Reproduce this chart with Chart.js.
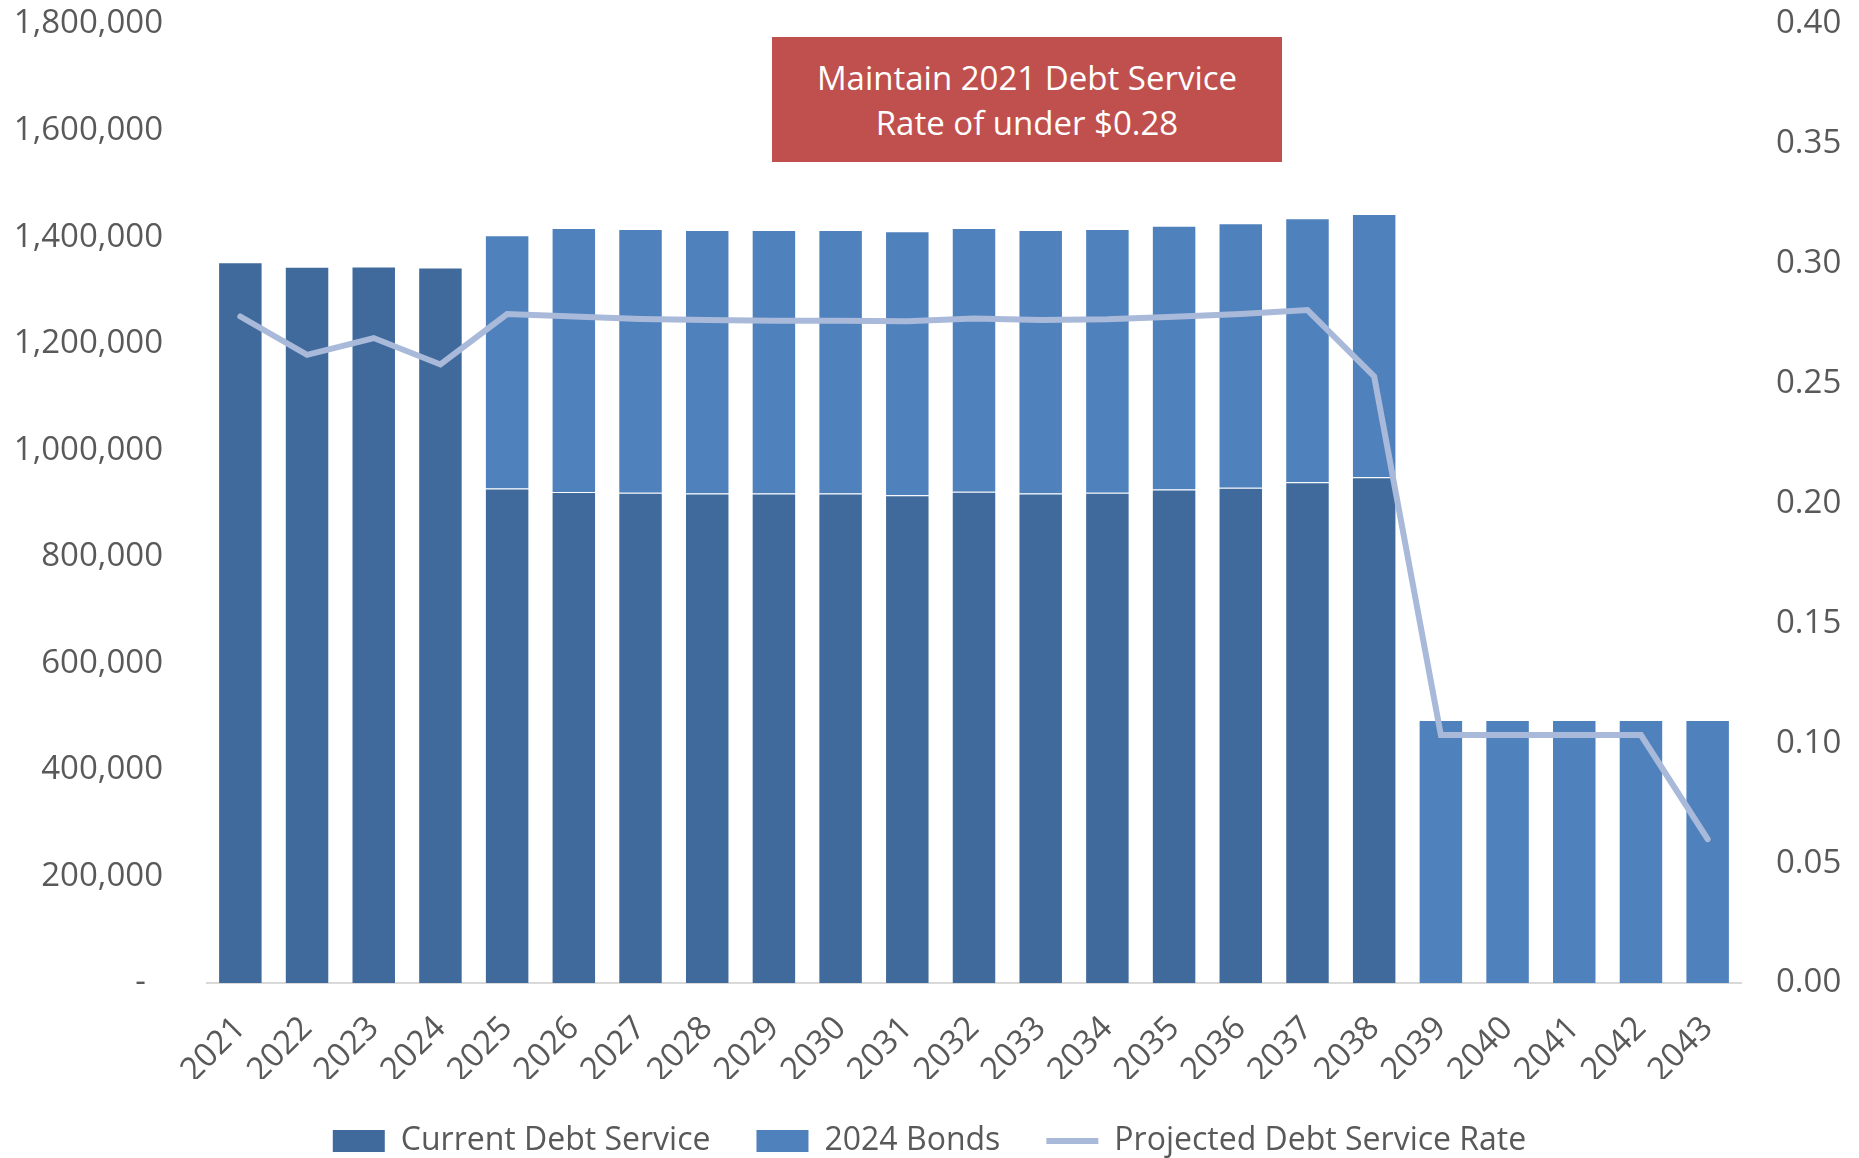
<!DOCTYPE html>
<html>
<head>
<meta charset="utf-8">
<script src="https://cdn.jsdelivr.net/npm/chart.js@4/dist/chart.umd.min.js"></script>
<style>
  html, body { margin: 0; padding: 0; background: #fff; }
  #wrap { position: relative; width: 1859px; height: 1158px; overflow: hidden; }
  #note {
    position: absolute; left: 772px; top: 37px; width: 510px; height: 125px;
    background: #C0504D; color: #fff; font-family: "Open Sans", sans-serif;
    font-size: 33px; line-height: 45px; text-align: center;
    display: flex; align-items: center; justify-content: center;
  }
</style>
</head>
<body>
<div id="wrap">
  <canvas id="debt" width="1859" height="1158"></canvas>
  <div id="note">Maintain 2021 Debt Service<br>Rate of under $0.28</div>
</div>
<script>
// fiscal years on the x axis
const years = ['2021','2022','2023','2024','2025','2026','2027','2028','2029','2030','2031','2032',
  '2033','2034','2035','2036','2037','2038','2039','2040','2041','2042','2043'];

// existing debt service ($)
const currentDebt = [1353000, 1344500, 1345000, 1343000, 928000, 921500, 920300, 919000, 919000,
  919000, 915300, 922100, 919000, 920300, 926500, 929600, 939700, 949100, null, null, null, null, null];

// new 2024 bond payments ($)
const bonds2024 = [null, null, null, null, 475400, 495600, 494900, 494300, 494300, 494300, 495500,
  495000, 494300, 494900, 495000, 496300, 495600, 494300, 493600, 493600, 493600, 493600, 493600];

// projected rate per $100 valuation (right axis)
const debtRate = [0.278, 0.262, 0.269, 0.258, 0.279, 0.278, 0.277, 0.2765, 0.2762, 0.2762, 0.276,
  0.2772, 0.2765, 0.2768, 0.2779, 0.279, 0.2807, 0.253, 0.1034, 0.1034, 0.1034, 0.1034, 0.060];

const leftTicks = { min: 0, max: 1800000, step: 200000 };
const rightTicks = { min: 0, max: 0.4, step: 0.05 };

const gray = '#595959';
const font = { family: '"Open Sans", sans-serif', size: 33 };

// y axes: fixed widths, and no extra top/bottom room for the end labels
function fixWidth(w) {
  return scale => {
    scale.width = w;
    scale.paddingTop = 0;
    scale.paddingBottom = 0;
  };
}

const ctx = document.getElementById('debt').getContext('2d');
new Chart(ctx, {
  type: 'bar',
  data: {
    labels: years,
    datasets: [
      { label: 'Current Debt Service', data: currentDebt, backgroundColor: '#406A9B',
        borderColor: 'rgba(255,255,255,0.3)', borderWidth: 1, yAxisID: 'y', order: 1, stack: 's' },
      { label: '2024 Bonds', data: bonds2024, backgroundColor: '#4F81BD',
        borderColor: 'rgba(255,255,255,0.3)', borderWidth: 1, yAxisID: 'y', order: 1, stack: 's' },
      { type: 'line', label: 'Projected Debt Service Rate', data: debtRate, yAxisID: 'y1',
        borderColor: '#A9B9D9', backgroundColor: '#A9B9D9', borderWidth: 6, pointRadius: 0,
        borderCapStyle: 'round', borderJoinStyle: 'miter', tension: 0, order: 0, pointStyle: 'line' }
    ]
  },
  options: {
    responsive: false,
    animation: false,
    layout: { padding: { top: 24, left: 0, right: 0, bottom: 0 } },
    datasets: { bar: { barPercentage: 0.667, categoryPercentage: 1 } },
    plugins: {
      tooltip: { enabled: false },
      legend: {
        position: 'bottom',
        maxHeight: 79,
        labels: {
          color: gray,
          font: { family: '"Open Sans", sans-serif', size: 32 },
          usePointStyle: true,
          pointStyleWidth: 52,
          boxHeight: 22,
          padding: 46,
          sort: (a, b) => a.datasetIndex - b.datasetIndex,
          generateLabels(chart) {
            return chart.data.datasets.map((ds, i) => ({
              text: ds.label,
              datasetIndex: i,
              fillStyle: ds.backgroundColor,
              strokeStyle: ds.type === 'line' ? ds.borderColor : ds.backgroundColor,
              lineWidth: ds.type === 'line' ? 6 : 0,
              pointStyle: ds.type === 'line' ? 'line' : 'rect',
              fontColor: gray,
              hidden: false
            }));
          }
        }
      }
    },
    scales: {
      x: {
        stacked: true,
        grid: { display: false, drawTicks: false },
        border: { display: true, color: '#D9D9D9', width: 2 },
        ticks: { color: gray, font, minRotation: 45, maxRotation: 45, padding: 26, autoSkip: false },
        afterFit(scale) { scale.height = 96; }
      },
      y: {
        stacked: true,
        position: 'left',
        min: leftTicks.min,
        max: leftTicks.max,
        grid: { display: false, drawTicks: false },
        border: { display: false },
        ticks: {
          stepSize: leftTicks.step,
          color: gray,
          font,
          padding: 44,
          callback: v => v === 0 ? '-  ' : v.toLocaleString('en-US')
        },
        afterFit: fixWidth(207)
      },
      y1: {
        position: 'right',
        min: rightTicks.min,
        max: rightTicks.max,
        grid: { display: false, drawTicks: false },
        border: { display: false },
        ticks: {
          stepSize: rightTicks.step,
          color: gray,
          font,
          padding: 35,
          callback: v => Number(v).toFixed(2)
        },
        afterFit: fixWidth(118)
      }
    }
  }
});
</script>
</body>
</html>
